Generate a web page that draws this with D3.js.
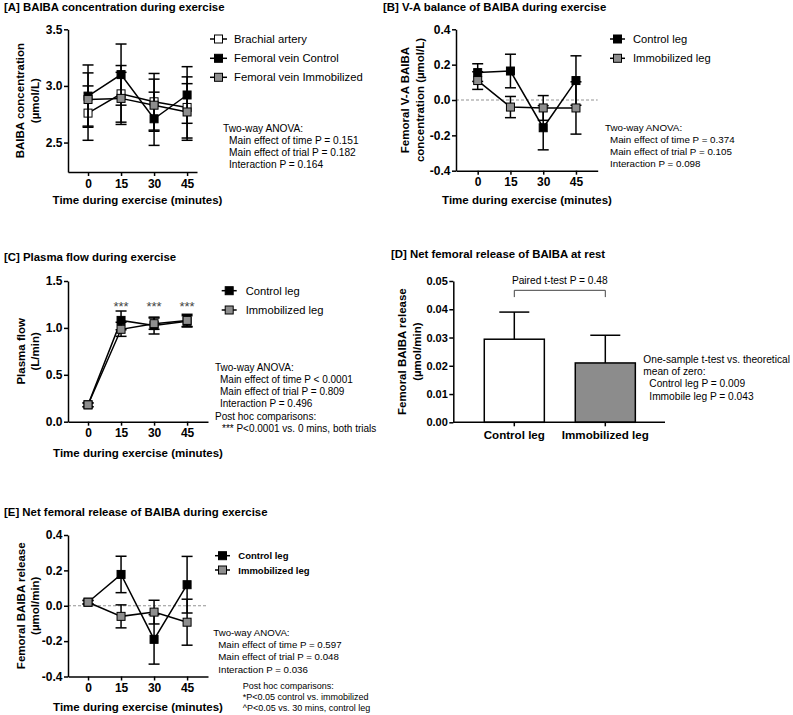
<!DOCTYPE html>
<html><head><meta charset="utf-8">
<script src="https://cdn.jsdelivr.net/npm/d3@7"></script>
<style>body{margin:0;background:#fff} svg{display:block}</style>
</head><body><svg id="c" width="793" height="715"></svg>
<script>
// ---------- DATA ----------
const times = [0, 15, 30, 45];
// Panel A: BAIBA concentration (µmol/L)
const aBrachial = [2.76, 2.93, 2.86, 2.81];
const aBrachialErr = [0.24, 0.25, 0.25, 0.27];
const aFvControl = [2.91, 3.10, 2.71, 2.92];
const aFvControlErr = [0.275, 0.27, 0.235, 0.25];
const aFvImmob = [2.88, 2.89, 2.83, 2.77];
const aFvImmobErr = [0.235, 0.23, 0.23, 0.25];
// Panel B: V-A balance (µmol/L)
const bControl = [0.155, 0.164, -0.157, 0.11];
const bControlErr = [0.05, 0.095, 0.125, 0.14];
const bImmob = [0.11, -0.04, -0.045, -0.045];
const bImmobErr = [0.05, 0.06, 0.07, 0.148];
// Panel C: plasma flow (L/min)
const cControl = [0.18, 1.08, 1.025, 1.07];
const cControlErr = [0.02, 0.1, 0.09, 0.06];
const cImmob = [0.18, 0.985, 1.045, 1.08];
const cImmobErr = [0.02, 0.075, 0.06, 0.065];
// Panel D: net femoral release at rest (µmol/min)
const dCategories = ["Control leg", "Immobilized leg"];
const dValues = [0.0294, 0.021];
const dErr = [0.0096, 0.0098];
// Panel E: net femoral release during exercise (µmol/min)
const eControl = [0.02, 0.177, -0.19, 0.119];
const eControlErr = [0.01, 0.103, 0.14, 0.16];
const eImmob = [0.02, -0.06, -0.036, -0.093];
const eImmobErr = [0.01, 0.065, 0.067, 0.13];
// Tick labels
const ticksA = [2.5, 3.0, 3.5];
const ticksB = [-0.4, -0.2, 0.0, 0.2, 0.4];
const ticksC = [0.0, 0.5, 1.0, 1.5];
const ticksD = [0.00, 0.01, 0.02, 0.03, 0.04, 0.05];
const ticksE = [-0.4, -0.2, 0.0, 0.2, 0.4];

// ---------- STYLE ----------
const FONT = '"Liberation Sans", Arial, Helvetica, sans-serif';
const GRAY = '#8e8e8e';
const svg = d3.select('#c');

function txt(x, y, s, o = {}) {
  const t = svg.append('text').attr('x', x).attr('y', y).text(s)
    .attr('font-family', FONT)
    .attr('font-size', o.size || 10)
    .attr('font-weight', o.bold ? 'bold' : 'normal')
    .attr('fill', o.fill || '#000')
    .attr('dominant-baseline', 'central')
    .attr('text-anchor', o.anchor || 'start');
  if (o.rotate) t.attr('transform', `rotate(-90,${x},${y})`);
  return t;
}
const fmt = p => d => d3.format(p)(d).replace('\u2212', '-');

function styleAxis(sel, size) {
  sel.select('.domain').attr('stroke', '#000').attr('stroke-width', 1.5);
  sel.selectAll('.tick line').attr('stroke', '#000').attr('stroke-width', 1.5);
  sel.selectAll('.tick text').attr('font-family', FONT).attr('font-weight', 'bold')
    .attr('font-size', size).attr('fill', '#000');
}

function legend(items, lx0, lx1, tx, ys, size, bold) {
  items.forEach((it, i) => {
    const y = ys[i];
    svg.append('line').attr('x1', lx0).attr('x2', lx1).attr('y1', y).attr('y2', y)
      .attr('stroke', '#000').attr('stroke-width', 1.5);
    const c = (lx0 + lx1) / 2;
    svg.append('rect').attr('x', c - 4).attr('y', y - 4).attr('width', 8).attr('height', 8)
      .attr('fill', it.fill).attr('stroke', '#000').attr('stroke-width', 1);
    txt(tx, y, it.label, { size, bold });
  });
}

function notes(lines, x, y0, dy, size) {
  lines.forEach((l, i) => txt(x + (l.indent || 0), y0 + i * dy, l.t, { size }));
}

function linePanel(cfg) {
  const x = d3.scaleLinear().domain(cfg.xDomain).range([cfg.left, cfg.right]);
  const y = d3.scaleLinear().domain(cfg.yDomain).range([cfg.bottom, cfg.top]);
  if (cfg.zero) {
    svg.append('line').attr('x1', cfg.left).attr('x2', cfg.right)
      .attr('y1', y(0)).attr('y2', y(0))
      .attr('stroke', '#777').attr('stroke-width', 0.8).attr('stroke-dasharray', '3,2');
  }
  svg.append('g').attr('transform', `translate(0,${cfg.bottom})`)
    .call(d3.axisBottom(x).tickValues(times).tickSize(4).tickPadding(3).tickSizeOuter(0))
    .call(s => styleAxis(s, 12));
  svg.append('g').attr('transform', `translate(${cfg.left},0)`)
    .call(d3.axisLeft(y).tickValues(cfg.yTicks).tickFormat(fmt('.1f')).tickSize(4).tickPadding(1.5).tickSizeOuter(0))
    .call(s => styleAxis(s, 12));
  cfg.series.forEach(s => {
    const g = svg.append('g');
    times.forEach((t, i) => {
      const lo = y(s.v[i] - s.e[i]), hi = y(s.v[i] + s.e[i]), cx = x(t);
      g.append('line').attr('x1', cx).attr('x2', cx).attr('y1', lo).attr('y2', hi)
        .attr('stroke', '#000').attr('stroke-width', 1.5);
      [lo, hi].forEach(yy => g.append('line').attr('x1', cx - 5.5).attr('x2', cx + 5.5)
        .attr('y1', yy).attr('y2', yy).attr('stroke', '#000').attr('stroke-width', 1.5));
    });
    g.append('path').datum(times.map((t, i) => [t, s.v[i]]))
      .attr('d', d3.line().x(d => x(d[0])).y(d => y(d[1])))
      .attr('fill', 'none').attr('stroke', '#000').attr('stroke-width', 1.5);
    g.selectAll('rect.m').data(times.map((t, i) => [t, s.v[i]])).enter().append('rect')
      .attr('x', d => x(d[0]) - 4).attr('y', d => y(d[1]) - 4)
      .attr('width', 8).attr('height', 8)
      .attr('fill', s.fill).attr('stroke', '#000').attr('stroke-width', 1);
  });
  const yc = (cfg.top + cfg.bottom) / 2;
  txt(cfg.yTitleX[0], yc, cfg.yTitle[0], { size: 11.5, bold: true, anchor: 'middle', rotate: true });
  txt(cfg.yTitleX[1], yc, cfg.yTitle[1], { size: 11.5, bold: true, anchor: 'middle', rotate: true });
  txt(cfg.xTitlePos[0], cfg.xTitlePos[1], 'Time during exercise (minutes)', { size: 11.5, bold: true, anchor: 'middle' });
  return { x, y };
}

// ---------- TITLES ----------
txt(4, 7, '[A] BAIBA concentration during exercise', { size: 11.4, bold: true });
txt(383, 7, '[B] V-A balance of BAIBA during exercise', { size: 11.4, bold: true });
txt(4, 257.3, '[C] Plasma flow during exercise', { size: 11.4, bold: true });
txt(391, 254, '[D] Net femoral release of BAIBA at rest', { size: 11.4, bold: true });
txt(4, 511.7, '[E] Net femoral release of BAIBA during exercise', { size: 11.4, bold: true });

// ---------- PANEL A ----------
linePanel({
  left: 68, right: 197, top: 29.3, bottom: 172,
  xDomain: [-9.1, 49.5], yDomain: [2.24, 3.5], yTicks: ticksA,
  series: [
    { v: aBrachial, e: aBrachialErr, fill: '#fff' },
    { v: aFvControl, e: aFvControlErr, fill: '#000' },
    { v: aFvImmob, e: aFvImmobErr, fill: GRAY }
  ],
  yTitle: ['BAIBA concentration', '(\u00b5mol/L)'], yTitleX: [20, 35.5],
  xTitlePos: [137.5, 199.5]
});
legend([{ label: 'Brachial artery', fill: '#fff' }, { label: 'Femoral vein Control', fill: '#000' },
  { label: 'Femoral vein Immobilized', fill: GRAY }], 210, 227, 234, [39, 58.3, 77.3], 11.3, false);
notes([{ t: 'Two-way ANOVA:' }, { t: 'Main effect of time P = 0.151', indent: 6 },
  { t: 'Main effect of trial P = 0.182', indent: 6 }, { t: 'Interaction P = 0.164', indent: 6 }], 223, 128, 12, 10.2);

// ---------- PANEL B ----------
linePanel({
  left: 456, right: 597.7, top: 29.3, bottom: 170.7,
  xDomain: [-9.93, 54.95], yDomain: [-0.4, 0.4], yTicks: ticksB, zero: true,
  series: [
    { v: bControl, e: bControlErr, fill: '#000' },
    { v: bImmob, e: bImmobErr, fill: GRAY }
  ],
  yTitle: ['Femoral V-A BAIBA', 'concentration (\u00b5mol/L)'], yTitleX: [405, 420],
  xTitlePos: [527, 199.5]
});
legend([{ label: 'Control leg', fill: '#000' }, { label: 'Immobilized leg', fill: GRAY }],
  610, 625, 633, [39, 58.3], 11.2, false);
notes([{ t: 'Two-way ANOVA:' }, { t: 'Main effect of time P = 0.374', indent: 5 },
  { t: 'Main effect of trial P = 0.105', indent: 5 }, { t: 'Interaction P = 0.098', indent: 5 }], 605, 127.5, 12, 9.8);

// ---------- PANEL C ----------
const pc = linePanel({
  left: 68, right: 208, top: 281, bottom: 421.7,
  xDomain: [-9.1, 54.5], yDomain: [0, 1.5], yTicks: ticksC,
  series: [
    { v: cControl, e: cControlErr, fill: '#000' },
    { v: cImmob, e: cImmobErr, fill: GRAY }
  ],
  yTitle: ['Plasma flow', '(L/min)'], yTitleX: [21, 35.5],
  xTitlePos: [138, 453]
});
times.slice(1).forEach(t => txt(pc.x(t), pc.y(1.26) + 3, '***', { size: 13, anchor: 'middle', fill: '#444' }));
legend([{ label: 'Control leg', fill: '#000' }, { label: 'Immobilized leg', fill: GRAY }],
  221.7, 236.7, 245.7, [290.7, 310], 11.2, false);
notes([{ t: 'Two-way ANOVA:' }, { t: 'Main effect of time P < 0.0001', indent: 5 },
  { t: 'Main effect of trial P = 0.809', indent: 5 }, { t: 'Interaction P = 0.496', indent: 5 },
  { t: 'Post hoc comparisons:' }, { t: '*** P<0.0001 vs. 0 mins, both trials', indent: 7 }], 215, 367.3, 12.2, 10);

// ---------- PANEL D ----------
(function () {
  const left = 453.3, right = 665, top = 281, bottom = 422.3;
  const x = d3.scaleBand().domain(dCategories).range([468.8, 650.8]).paddingInner(0.34).paddingOuter(0.17);
  const y = d3.scaleLinear().domain([0, 0.05]).range([bottom, top]);
  const g = svg.append('g');
  dCategories.forEach((c, i) => {
    const cx = x(c) + x.bandwidth() / 2;
    g.append('line').attr('x1', cx).attr('x2', cx).attr('y1', y(dValues[i])).attr('y2', y(dValues[i] + dErr[i]))
      .attr('stroke', '#000').attr('stroke-width', 1.5);
    g.append('line').attr('x1', cx - 15).attr('x2', cx + 15).attr('y1', y(dValues[i] + dErr[i])).attr('y2', y(dValues[i] + dErr[i]))
      .attr('stroke', '#000').attr('stroke-width', 1.5);
    g.append('rect').attr('x', x(c)).attr('y', y(dValues[i])).attr('width', x.bandwidth())
      .attr('height', bottom - y(dValues[i]))
      .attr('fill', i === 0 ? '#fff' : '#8c8c8c').attr('stroke', '#000').attr('stroke-width', 1.5);
  });
  // x axis line + ticks
  g.append('line').attr('x1', left).attr('x2', right).attr('y1', bottom).attr('y2', bottom)
    .attr('stroke', '#000').attr('stroke-width', 1.5);
  dCategories.forEach(c => {
    const cx = x(c) + x.bandwidth() / 2;
    g.append('line').attr('x1', cx).attr('x2', cx).attr('y1', bottom).attr('y2', bottom + 4)
      .attr('stroke', '#000').attr('stroke-width', 1.5);
    txt(cx, 434.3, c, { size: 11.6, bold: true, anchor: 'middle' });
  });
  svg.append('g').attr('transform', `translate(${left},0)`)
    .call(d3.axisLeft(y).tickValues(ticksD).tickFormat(fmt('.2f')).tickSize(4).tickPadding(1.5).tickSizeOuter(0))
    .call(s => styleAxis(s, 11));
  // bracket
  const c0 = x(dCategories[0]) + x.bandwidth() / 2, c1 = x(dCategories[1]) + x.bandwidth() / 2;
  svg.append('path').attr('d', `M${c0},${y(0.0443)}V${y(0.0467)}H${c1}V${y(0.0443)}`)
    .attr('fill', 'none').attr('stroke', '#444').attr('stroke-width', 1);
  txt((c0 + c1) / 2, 280.7, 'Paired t-test P = 0.48', { size: 10.2, anchor: 'middle' });
  const yc = (top + bottom) / 2;
  txt(401.7, yc, 'Femoral BAIBA release', { size: 11.5, bold: true, anchor: 'middle', rotate: true });
  txt(416.7, yc, '(\u00b5mol/min)', { size: 11.5, bold: true, anchor: 'middle', rotate: true });
  notes([{ t: 'One-sample t-test vs. theoretical' }, { t: 'mean of zero:' },
    { t: 'Control leg P = 0.009', indent: 6 }, { t: 'Immobile leg P = 0.043', indent: 6 }], 643.3, 359.3, 12.3, 10.2);
})();

// ---------- PANEL E ----------
linePanel({
  left: 68, right: 208, top: 535, bottom: 676.5,
  xDomain: [-9.1, 54.5], yDomain: [-0.4, 0.4], yTicks: ticksE, zero: true,
  series: [
    { v: eControl, e: eControlErr, fill: '#000' },
    { v: eImmob, e: eImmobErr, fill: GRAY }
  ],
  yTitle: ['Femoral BAIBA release', '(\u00b5mol/min)'], yTitleX: [20.5, 35],
  xTitlePos: [138, 707.3]
});
legend([{ label: 'Control leg', fill: '#000' }, { label: 'Immobilized leg', fill: GRAY }],
  215, 230, 238.3, [555.7, 570], 9.5, true);
notes([{ t: 'Two-way ANOVA:' }, { t: 'Main effect of time P = 0.597', indent: 5 },
  { t: 'Main effect of trial P = 0.048', indent: 5 }, { t: 'Interaction P = 0.036', indent: 5 }], 213.3, 632.7, 12.1, 9.7);
notes([{ t: 'Post hoc comparisons:' }, { t: '*P<0.05 control vs. immobilized' },
  { t: '^P<0.05 vs. 30 mins, control leg' }], 242.7, 686, 11, 9);
</script>
</body></html>
